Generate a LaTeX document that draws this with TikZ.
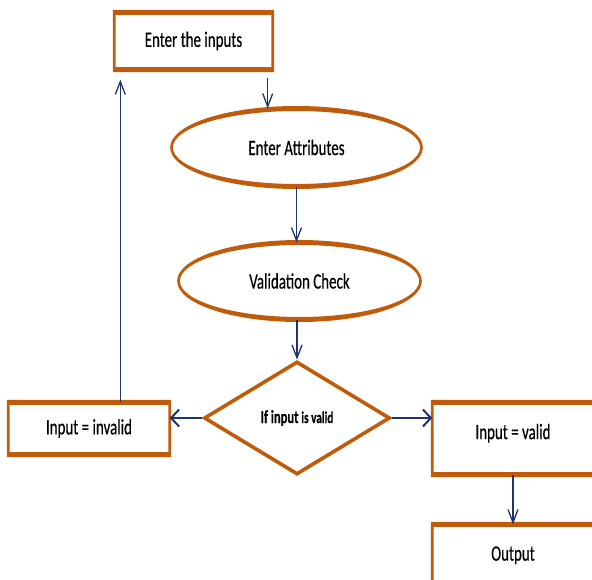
\documentclass[tikz,border=0pt]{standalone}
\usepackage{fontspec}
\setmainfont{Carlito}[FakeStretch=0.68,FakeBold=0.4]
\usetikzlibrary{arrows.meta,shapes.geometric}
\definecolor{rust}{HTML}{BF5B0B}
\definecolor{flowblue}{HTML}{1F3468}
% rims: thick top and bottom, thin sides
\newcommand{\boxrim}[1]{\fill[rust, even odd rule] ([shift={(-1.35pt,2.5pt)}]#1.north west) rectangle ([shift={(1.35pt,-2.5pt)}]#1.south east)
  ([shift={(1.35pt,-2.5pt)}]#1.north west) rectangle ([shift={(-1.35pt,2.5pt)}]#1.south east);}
\newcommand{\ovalrim}[3]{\fill[rust, even odd rule] (#1) ellipse [x radius=#2+1.35, y radius=#3+2.5]
  (#1) ellipse [x radius=#2-1.35, y radius=#3-2.5];}
\tikzset{
box/.style={rectangle, inner sep=0pt, font=\fontsize{22}{26}\selectfont},
oval/.style={ellipse, inner sep=0pt, font=\fontsize{22}{26}\selectfont},
choice/.style={draw=rust, line width=3.6pt, diamond, inner sep=0pt, font=\bfseries\fontsize{18.5}{22}\selectfont},
down/.style={flowblue, line width=1.3pt, -{Straight Barb[length=13pt,width=10pt]}},
side/.style={flowblue, line width=2pt, -{Straight Barb[length=8pt,width=17pt]}}
}
\begin{document}
\begin{tikzpicture}[x=1pt,y=-1pt]

\useasboundingbox (0,0) rectangle (592,580);
\clip (0,0) rectangle (592,580);

\node[box, minimum width=158pt, minimum height=57pt] (inputs) at (193.5,41) {Enter the inputs};
\node[oval, minimum width=250pt, minimum height=78pt] (attr) at (296.5,147.5) {Enter Attributes};
\node[oval, minimum width=242pt, minimum height=77pt] (check) at (299.5,281) {Validation Check};
\node[choice, minimum width=186pt, minimum height=113pt] (valid) at (297,418) {If input {\fontsize{16.5}{18}\selectfont is valid}};

\node[box, minimum width=161pt, minimum height=52pt] (invalid) at (89,428.5) {Input = invalid};
\node[box, minimum width=161pt, minimum height=72pt, text depth=14pt] (validbox) at (513,438.5) {Input = valid};
\node[box, minimum width=161pt, minimum height=72pt, text depth=14pt] (output) at (513,560.5) {Output};

\boxrim{inputs}
\boxrim{invalid}
\boxrim{validbox}
\boxrim{output}
\ovalrim{attr}{125}{39}
\ovalrim{check}{121}{38.5}

%flow arrows
\draw[down] ([xshift=-5pt,yshift=-8pt]inputs.south east) -- ([xshift=-5pt]inputs.south east |- attr.north);
\draw[down] (attr.south) -- (attr.south |- check.north);
\draw[down] (valid.north |- check.south) -- (valid.north);
\draw[side] (valid.west) -- (valid.west -| invalid.east);
\draw[side] (valid.east) -- (valid.east -| validbox.west);
\draw[down] ([xshift=6pt]inputs.south west |- invalid.north) -- ([xshift=6pt,yshift=-10pt]inputs.south west);
\draw[down] (validbox.south) -- (output.north);

\end{tikzpicture}
\end{document}
